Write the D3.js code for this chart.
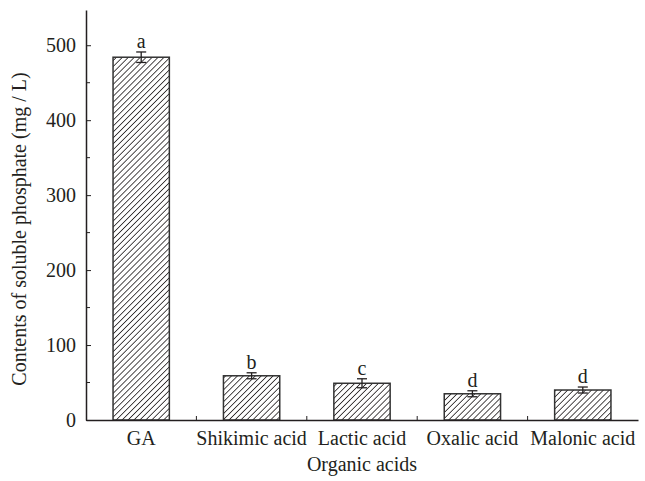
<!DOCTYPE html>
<html>
<head>
<meta charset="utf-8">
<script src="https://cdn.jsdelivr.net/npm/d3@7"></script>
<style>
  body { margin: 0; background: #fff; }
  text { font-family: "Liberation Serif", "DejaVu Serif", serif; fill: #231f20; }
</style>
</head>
<body>
<div id="chart"></div>
<script>
// data
var categories = ["GA", "Shikimic acid", "Lactic acid", "Oxalic acid", "Malonic acid"];
var values = [484, 59, 49, 35, 40];
var errors = [7, 4, 6, 4, 4];
var letters = ["a", "b", "c", "d", "d"];
var yTicks = [0, 100, 200, 300, 400, 500];
var yMinorTicks = [50, 150, 250, 350, 450];

var width = 645, height = 481,
    margin = {top: 10, right: 7, bottom: 61, left: 86},
    w = width - margin.left - margin.right,
    h = height - margin.top - margin.bottom;

var ink = "#231f20";
var fs = "20px";

var svg = d3.select("#chart").append("svg")
    .attr("width", width)
    .attr("height", height);

// diagonal hatch for the bars
var defs = svg.append("defs");
var pat = defs.append("pattern")
    .attr("id", "hatch")
    .attr("patternUnits", "userSpaceOnUse")
    .attr("width", 4.2)
    .attr("height", 4.2)
    .attr("patternTransform", "rotate(45)");
pat.append("rect").attr("width", 4.2).attr("height", 4.2).attr("fill", "#fff");
pat.append("line")
    .attr("x1", 0).attr("y1", 0).attr("x2", 0).attr("y2", 4.2)
    .attr("stroke", ink).attr("stroke-width", 1.6);

var g = svg.append("g")
    .attr("transform", "translate(" + margin.left + "," + margin.top + ")");

var X = d3.scaleBand().domain(categories).range([0, w]).paddingInner(0.49).paddingOuter(0.245);
var Xb = d3.scaleBand().domain(categories).range([0, w]);
var Y = d3.scaleLinear().domain([0, 547]).range([h, 0]);

// bars
g.selectAll(".bar").data(values).enter().append("rect")
    .attr("class", "bar")
    .attr("x", function(d, i) { return X(categories[i]); })
    .attr("y", function(d) { return Y(d); })
    .attr("width", X.bandwidth())
    .attr("height", function(d) { return h - Y(d); })
    .attr("fill", "url(#hatch)")
    .attr("stroke", "#333")
    .attr("stroke-width", 1.5);

// error bars
var cap = 5;
var eb = g.selectAll(".err").data(values).enter().append("g").attr("class", "err")
    .attr("stroke", ink).attr("stroke-width", 1.3);
eb.append("line")
    .attr("x1", function(d, i) { return X(categories[i]) + X.bandwidth() / 2; })
    .attr("x2", function(d, i) { return X(categories[i]) + X.bandwidth() / 2; })
    .attr("y1", function(d, i) { return Y(d + errors[i]); })
    .attr("y2", function(d, i) { return Y(d - errors[i]); });
eb.append("line")
    .attr("x1", function(d, i) { return X(categories[i]) + X.bandwidth() / 2 - cap; })
    .attr("x2", function(d, i) { return X(categories[i]) + X.bandwidth() / 2 + cap; })
    .attr("y1", function(d, i) { return Y(d + errors[i]); })
    .attr("y2", function(d, i) { return Y(d + errors[i]); });
eb.append("line")
    .attr("x1", function(d, i) { return X(categories[i]) + X.bandwidth() / 2 - cap; })
    .attr("x2", function(d, i) { return X(categories[i]) + X.bandwidth() / 2 + cap; })
    .attr("y1", function(d, i) { return Y(d - errors[i]); })
    .attr("y2", function(d, i) { return Y(d - errors[i]); });

// significance letters
g.selectAll(".letter").data(values).enter().append("text")
    .attr("class", "letter")
    .attr("x", function(d, i) { return X(categories[i]) + X.bandwidth() / 2; })
    .attr("y", function(d, i) { return Y(d + errors[i]) - 4; })
    .attr("text-anchor", "middle")
    .style("font-size", fs)
    .text(function(d, i) { return letters[i]; });

// y axis
var yAxis = g.append("g").attr("class", "axis")
    .call(d3.axisLeft(Y).tickValues(yTicks).tickSize(-5).tickPadding(10).tickSizeOuter(0));
yAxis.append("g").selectAll("line").data(yMinorTicks).enter().append("line")
    .attr("x1", 0).attr("x2", 4)
    .attr("y1", function(d) { return Y(d); })
    .attr("y2", function(d) { return Y(d); })
    .attr("stroke", ink);

// x axis
var xAxis = g.append("g").attr("class", "axis")
    .attr("transform", "translate(0," + h + ")")
    .call(d3.axisBottom(Xb).tickSize(0).tickPadding(11).tickSizeOuter(0));
xAxis.append("g").selectAll("line").data(categories.slice(1)).enter().append("line")
    .attr("x1", function(d) { return Xb(d); })
    .attr("x2", function(d) { return Xb(d); })
    .attr("y1", 0).attr("y2", -4)
    .attr("stroke", ink);

svg.selectAll(".axis path").attr("stroke", ink).attr("stroke-width", 1.5);
svg.selectAll(".axis line").attr("stroke", ink);
svg.selectAll(".axis text")
    .style("font-family", "'Liberation Serif', serif")
    .style("font-size", fs)
    .attr("fill", ink);

// axis titles
svg.append("text")
    .attr("x", margin.left + w / 2)
    .attr("y", 471)
    .attr("text-anchor", "middle")
    .style("font-size", fs)
    .text("Organic acids");

svg.append("text")
    .attr("transform", "translate(26," + (margin.top + h / 2 + 14) + ") rotate(-90)")
    .attr("text-anchor", "middle")
    .style("font-size", fs)
    .text("Contents of soluble phosphate (mg / L)");
</script>
</body>
</html>
